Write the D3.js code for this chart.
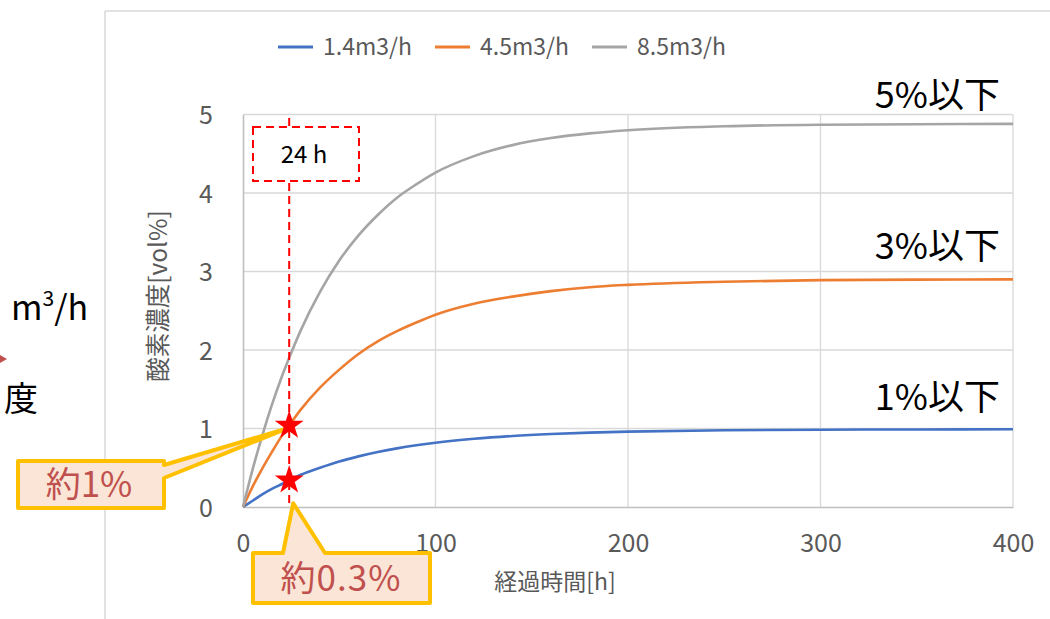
<!DOCTYPE html>
<html>
<head>
<meta charset="utf-8">
<script src="https://cdn.jsdelivr.net/npm/d3@7"></script>
<style>
  html, body { margin: 0; padding: 0; background: #fff; }
  svg { display: block; }
  text { font-family: "Noto Sans CJK JP", "Noto Sans", sans-serif; }
</style>
</head>
<body>
<svg id="chart" width="1050" height="619"></svg>
<script>
// Elapsed time [h]
const hours = [0, 5, 10, 15, 20, 24, 30, 40, 50, 60, 70, 80, 90, 100, 120, 140, 160, 180, 200, 250, 300, 350, 400];
// Oxygen concentration [vol%] per flow rate
const flow14 = [0, 0.08, 0.16, 0.23, 0.29, 0.34, 0.41, 0.50, 0.58, 0.645, 0.70, 0.747, 0.786, 0.819, 0.869, 0.905, 0.93, 0.948, 0.96, 0.978, 0.985, 0.988, 0.99];
const flow45 = [0, 0.26, 0.49, 0.70, 0.90, 1.04, 1.24, 1.52, 1.75, 1.95, 2.11, 2.24, 2.35, 2.45, 2.59, 2.68, 2.75, 2.80, 2.83, 2.87, 2.89, 2.896, 2.90];
const flow85 = [0, 0.48, 0.91, 1.30, 1.65, 1.90, 2.25, 2.74, 3.14, 3.46, 3.72, 3.94, 4.11, 4.26, 4.47, 4.61, 4.70, 4.76, 4.80, 4.85, 4.87, 4.876, 4.88];

const seriesNames = ["1.4m3/h", "4.5m3/h", "8.5m3/h"];
const seriesColors = ["#4472c4", "#ed7d31", "#a5a5a5"];
const seriesValues = [flow14, flow45, flow85];
const limitLabels = ["1%以下", "3%以下", "5%以下"];

const xTicks = [0, 100, 200, 300, 400];
const yTicks = [0, 1, 2, 3, 4, 5];

// Marked time and the annotated readings at that time
const markHour = 24;
const markLabel = "24 h";
const calloutLow = "約0.3%";
const calloutHigh = "約1%";

const svg = d3.select("#chart");
const x = d3.scaleLinear().domain([0, 400]).range([243, 1013]);
const y = d3.scaleLinear().domain([0, 5]).range([507, 114.5]);

// Outer frame of the chart object
svg.append("line").attr("x1", 105).attr("x2", 105).attr("y1", 11).attr("y2", 619)
  .attr("stroke", "#d9d9d9").attr("stroke-width", 1.5);
svg.append("line").attr("x1", 105).attr("x2", 1050).attr("y1", 11).attr("y2", 11)
  .attr("stroke", "#d9d9d9").attr("stroke-width", 1.5);

// Text at the left edge belonging to the neighbouring diagram
const leftText = svg.append("text").attr("x", 11).attr("y", 320)
  .attr("font-size", 34).attr("fill", "#000");
leftText.append("tspan").text("m");
leftText.append("tspan").attr("font-size", 21).attr("dy", -14).text("3");
leftText.append("tspan").attr("dy", 14).text("/h");
svg.append("text").attr("x", 4).attr("y", 411)
  .attr("font-size", 34).attr("fill", "#000").text("度");
svg.append("path").attr("d", "M0,355 L7,359 L0,363 Z").attr("fill", "#c0504d");

// Gridlines
svg.append("g").selectAll("line").data(yTicks.filter(d => d > 0)).join("line")
  .attr("x1", x(0)).attr("x2", x(400)).attr("y1", d => y(d)).attr("y2", d => y(d))
  .attr("stroke", "#d9d9d9").attr("stroke-width", 1.3);
svg.append("g").selectAll("line").data(xTicks.filter(d => d > 0)).join("line")
  .attr("x1", d => x(d)).attr("x2", d => x(d)).attr("y1", y(0)).attr("y2", y(5))
  .attr("stroke", "#d9d9d9").attr("stroke-width", 1.3);

// Axes
const xAxis = svg.append("g").attr("transform", `translate(0,${y(0)})`)
  .call(d3.axisBottom(x).tickValues(xTicks).tickFormat(d3.format("d")).tickSize(0).tickPadding(27));
const yAxis = svg.append("g").attr("transform", `translate(${x(0)},0)`)
  .call(d3.axisLeft(y).tickValues(yTicks).tickFormat(d3.format("d")).tickSize(0).tickPadding(30));
[xAxis, yAxis].forEach(g => {
  g.select(".domain").attr("stroke", "#bfbfbf").attr("stroke-width", 1.6);
  g.selectAll("text").attr("font-size", 25).attr("fill", "#595959")
    .attr("font-family", "'Noto Sans CJK JP', 'Noto Sans', sans-serif");
});
yAxis.selectAll("text").attr("dy", "0.36em");

// Axis titles
svg.append("text").attr("x", 555).attr("y", 590).attr("text-anchor", "middle")
  .attr("font-size", 23).attr("fill", "#595959").text("経過時間[h]");
svg.append("text").attr("transform", "translate(167,296) rotate(-90)")
  .attr("text-anchor", "middle").attr("font-size", 24.5).attr("fill", "#595959")
  .text("酸素濃度[vol%]");

// Series lines
const line = d3.line().x((d, i) => x(hours[i])).y(d => y(d)).curve(d3.curveMonotoneX);
svg.append("g").selectAll("path").data(seriesValues).join("path")
  .attr("d", d => line(d)).attr("fill", "none")
  .attr("stroke", (d, i) => seriesColors[i]).attr("stroke-width", 2.6);

// Limit labels at the right end of each line
const labelY = [410, 259, 108];
svg.append("g").selectAll("text").data(limitLabels).join("text")
  .attr("x", 1000).attr("y", (d, i) => labelY[i]).attr("text-anchor", "end")
  .attr("font-size", 36).attr("fill", "#000").text(d => d);

// Legend
const legend = svg.append("g").selectAll("g").data(seriesNames).join("g")
  .attr("transform", (d, i) => `translate(${278 + i * 157},47)`);
legend.append("line").attr("x1", 0).attr("x2", 35).attr("y1", 0).attr("y2", 0)
  .attr("stroke", (d, i) => seriesColors[i]).attr("stroke-width", 3);
legend.append("text").attr("x", 45).attr("y", 0).attr("dy", "0.36em")
  .attr("font-size", 23).attr("fill", "#595959").text(d => d);

// Marker line at 24 h with its label box
const mi = hours.indexOf(markHour);
svg.append("line").attr("x1", x(markHour)).attr("x2", x(markHour))
  .attr("y1", 118).attr("y2", y(0))
  .attr("stroke", "#ff0000").attr("stroke-width", 2).attr("stroke-dasharray", "8,5");
svg.append("rect").attr("x", 253).attr("y", 127).attr("width", 106).attr("height", 54)
  .attr("fill", "#fff").attr("stroke", "#ff0000").attr("stroke-width", 2)
  .attr("stroke-dasharray", "8,5");
svg.append("text").attr("x", 304).attr("y", 163).attr("text-anchor", "middle")
  .attr("font-size", 24).attr("fill", "#000").text(markLabel);

// Callouts
const px = x(markHour), pyHigh = y(flow45[mi]), pyLow = y(flow14[mi]);
const callout = (d) => svg.append("path").attr("d", d)
  .attr("fill", "#fbe5d6").attr("stroke", "#ffc000").attr("stroke-width", 4)
  .attr("stroke-linejoin", "round");
callout(`M18,461 L164,461 L164,465 L${px - 2},${pyHigh + 3} L164,478 L164,508 L18,508 Z`);
svg.append("text").attr("x", 89).attr("y", 497).attr("text-anchor", "middle")
  .attr("font-size", 35).attr("fill", "#c0504d").text(calloutHigh);
callout(`M253,553 L283,553 L${px + 4},${pyLow + 23} L325,553 L430,553 L430,603 L253,603 Z`);
svg.append("text").attr("x", 341).attr("y", 591).attr("text-anchor", "middle")
  .attr("font-size", 35).attr("fill", "#c0504d").attr("letter-spacing", 1).text(calloutLow);

// Star markers at the 24 h readings
const star = d3.symbol().type(d3.symbolStar).size(260);
svg.append("g").selectAll("path").data([flow45[mi], flow14[mi]]).join("path")
  .attr("d", star).attr("transform", d => `translate(${x(markHour)},${y(d)})`)
  .attr("fill", "#ff0000");
</script>
</body>
</html>
